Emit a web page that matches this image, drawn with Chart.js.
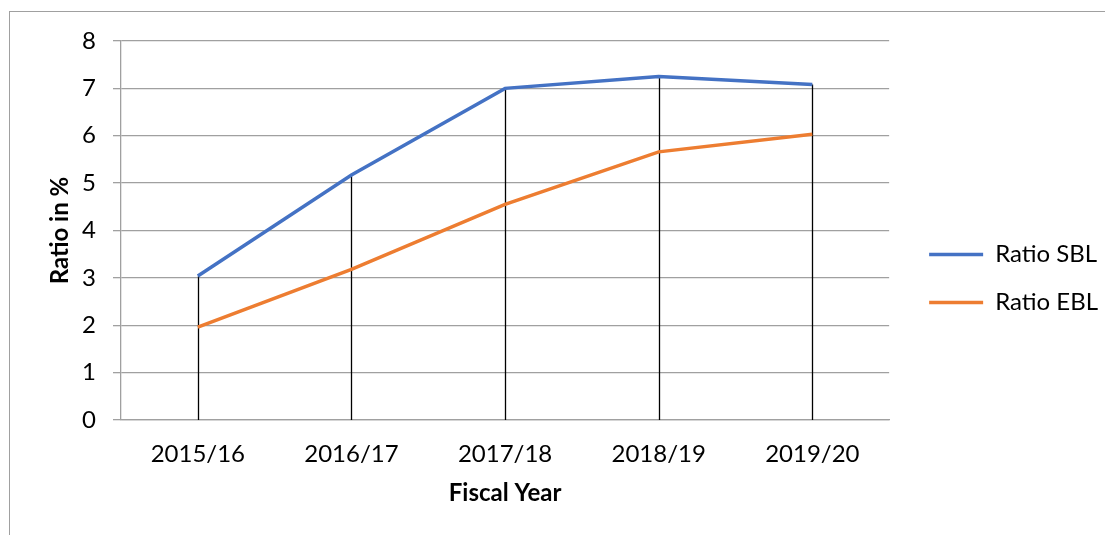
<!DOCTYPE html>
<html>
<head>
<meta charset="utf-8">
<script src="https://cdn.jsdelivr.net/npm/chart.js@4.4.1/dist/chart.umd.min.js"></script>
<style>
  html, body { margin: 0; padding: 0; background: #fff; overflow: hidden; }
  #wrap { position: relative; width: 1105px; height: 535px; }
  #frame { position: absolute; left: 9px; top: 11px; width: 1200px; height: 600px;
           border-left: 1px solid #a0a0a0; border-top: 1px solid #a0a0a0; box-sizing: border-box; }
  canvas { position: absolute; left: 0; top: 0; }
</style>
</head>
<body>
<div id="wrap">
  <div id="frame"></div>
  <canvas id="chart" width="1105" height="535"></canvas>
</div>
<script>
// Fiscal years on the category axis
const fiscalYears = ['2015/16', '2016/17', '2017/18', '2018/19', '2019/20'];
// Ratios in percent
const ratioSBL = [3.04, 5.17, 7.00, 7.25, 7.08];
const ratioEBL = [1.96, 3.18, 4.55, 5.66, 6.03];
// Value axis ticks
const yTicks = [0, 1, 2, 3, 4, 5, 6, 7, 8];

const FONT = 'Lato, "Open Sans", sans-serif';
const GRID = '#a0a0a0';

// Vertical drop lines from the highest series value down to zero
const dropLines = {
  id: 'dropLines',
  beforeDatasetsDraw(chart) {
    const x = chart.scales.x, y = chart.scales.y, ctx = chart.ctx;
    ctx.save();
    ctx.strokeStyle = '#000';
    ctx.lineWidth = 1.3;
    fiscalYears.forEach((_, i) => {
      const top = Math.max(...chart.data.datasets.map(d => d.data[i]));
      const px = Math.round(x.getPixelForValue(i)) + 0.5;
      ctx.beginPath();
      ctx.moveTo(px, y.getPixelForValue(top));
      ctx.lineTo(px, y.getPixelForValue(0));
      ctx.stroke();
    });
    ctx.restore();
  }
};

// Nudge the legend block a little away from the plot
const legendOffset = {
  id: 'legendOffset',
  afterLayout(chart) {
    const lg = chart.legend;
    if (!lg) return;
    lg.left += 16; lg.right += 16;
    lg.top += 4; lg.bottom += 4;
  }
};

new Chart(document.getElementById('chart'), {
  type: 'line',
  data: {
    labels: fiscalYears,
    datasets: [
      { label: 'Ratio SBL', data: ratioSBL, borderColor: '#4472c4', backgroundColor: '#4472c4',
        borderWidth: 3.5, pointRadius: 0, tension: 0 },
      { label: 'Ratio EBL', data: ratioEBL, borderColor: '#ed7d31', backgroundColor: '#ed7d31',
        borderWidth: 3.5, pointRadius: 0, tension: 0 }
    ]
  },
  options: {
    responsive: false,
    animation: false,
    events: [],
    layout: { padding: { left: 42, top: 41, right: 13, bottom: 27 } },
    scales: {
      x: {
        offset: true,
        afterFit(scale) { scale.height = 88; },
        grid: { display: false, drawTicks: false },
        border: { display: true, color: GRID, width: 1.3 },
        ticks: { color: '#000', font: { family: FONT, size: 24 }, padding: 20, maxRotation: 0 },
        title: { display: true, text: 'Fiscal Year', color: '#000',
                 font: { family: FONT, size: 24, weight: 'bold' }, padding: { top: 0, bottom: 0 } }
      },
      y: {
        min: 0, max: 8,
        afterFit(scale) { scale.width = 79; },
        afterBuildTicks(scale) { scale.ticks = yTicks.map(v => ({ value: v })); },
        grid: { color: GRID, lineWidth: 1.3, drawTicks: true, tickLength: 8 },
        border: { display: true, color: GRID, width: 1.3 },
        ticks: { color: '#000', font: { family: FONT, size: 24 }, padding: 17 },
        title: { display: true, text: 'Ratio in %', color: '#000',
                 font: { family: FONT, size: 24, weight: 'bold' }, padding: { top: 4, bottom: 0 } }
      }
    },
    plugins: {
      legend: {
        position: 'right',
        labels: {
          color: '#000',
          font: { family: FONT, size: 24 },
          usePointStyle: true,
          pointStyleWidth: 54,
          padding: 24,
          generateLabels(chart) {
            return chart.data.datasets.map((d, i) => ({
              text: d.label, fillStyle: d.borderColor, strokeStyle: d.borderColor,
              lineWidth: 3.5, pointStyle: 'line', datasetIndex: i, fontColor: '#000'
            }));
          }
        }
      },
      tooltip: { enabled: false }
    }
  },
  plugins: [dropLines, legendOffset]
});
</script>
</body>
</html>
